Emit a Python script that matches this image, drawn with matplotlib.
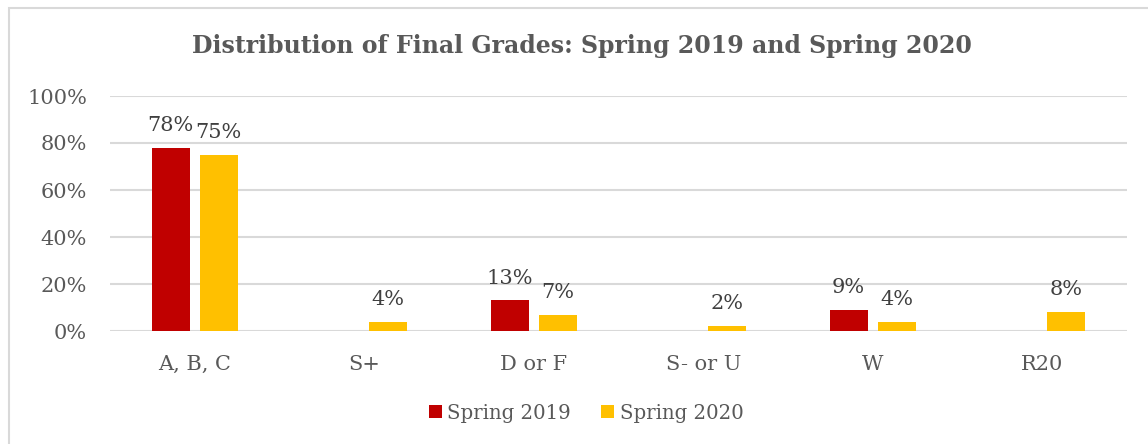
import numpy as np
import matplotlib
matplotlib.use("Agg")
import matplotlib.pyplot as plt
from matplotlib.patches import Rectangle

categories = ["A, B, C", "S+", "D or F", "S- or U", "W", "R20"]
spring_2019 = [78, 0, 13, 0, 9, 0]
spring_2020 = [75, 4, 7, 2, 4, 8]
series_names = ["Spring 2019", "Spring 2020"]
colors = ["#c00000", "#ffc000"]
yticks = [0, 20, 40, 60, 80, 100]

text_col = "#595959"
grid_col = "#d9d9d9"

plt.rcParams['font.family'] = ['DejaVu Serif']

fig = plt.figure(figsize=(11.48, 4.44), dpi=100)
W, H = 1148, 444

# chart frame (cropped on right and bottom)
fig.patches.append(Rectangle((9 / W, -0.1), 1.2, 1 - 8 / H + 0.1,
                             transform=fig.transFigure, fill=False,
                             edgecolor=grid_col, linewidth=1.5))

ax = fig.add_axes([110 / W, 1 - 331 / H, (1127 - 110) / W, (331 - 96) / H])

x = np.arange(len(categories))
bw = 0.225
off = 0.142
for vals, name, c, d in zip([spring_2019, spring_2020], series_names, colors, [-1, 1]):
    bars = ax.bar(x + d * off, vals, width=bw, color=c, label=name, zorder=3)
    for b, v in zip(bars, vals):
        if v:
            ax.text(b.get_x() + b.get_width() / 2, v + 5.5, f"{v}%", ha="center",
                    va="bottom", fontsize=15, color="#404040")

ax.set_xlim(-0.5, len(categories) - 0.5)
ax.set_ylim(0, 100)
ax.set_yticks(yticks)
ax.set_yticklabels([f"{t}%" for t in yticks])
ax.set_xticks(x)
ax.set_xticklabels(categories)
ax.tick_params(axis="both", length=0, labelsize=15, labelcolor=text_col)
ax.tick_params(axis="x", pad=17)
ax.tick_params(axis="y", pad=16.5)
ax.grid(axis="y", color=grid_col, linewidth=1.5, zorder=0)
for s in ax.spines.values():
    s.set_visible(False)

fig.text(582 / W, 1 - 46 / H, "Distribution of Final Grades: Spring 2019 and Spring 2020",
         ha="center", va="center", fontsize=17, fontweight="bold", color=text_col)

fig.legend(loc="center", bbox_to_anchor=(586 / W, 1 - 413 / H), ncol=2, frameon=False,
           fontsize=14.2, labelcolor=text_col, handlelength=0.65, handleheight=0.65,
           handletextpad=0.3, columnspacing=1.5)

fig.savefig("out.png", dpi=100)
